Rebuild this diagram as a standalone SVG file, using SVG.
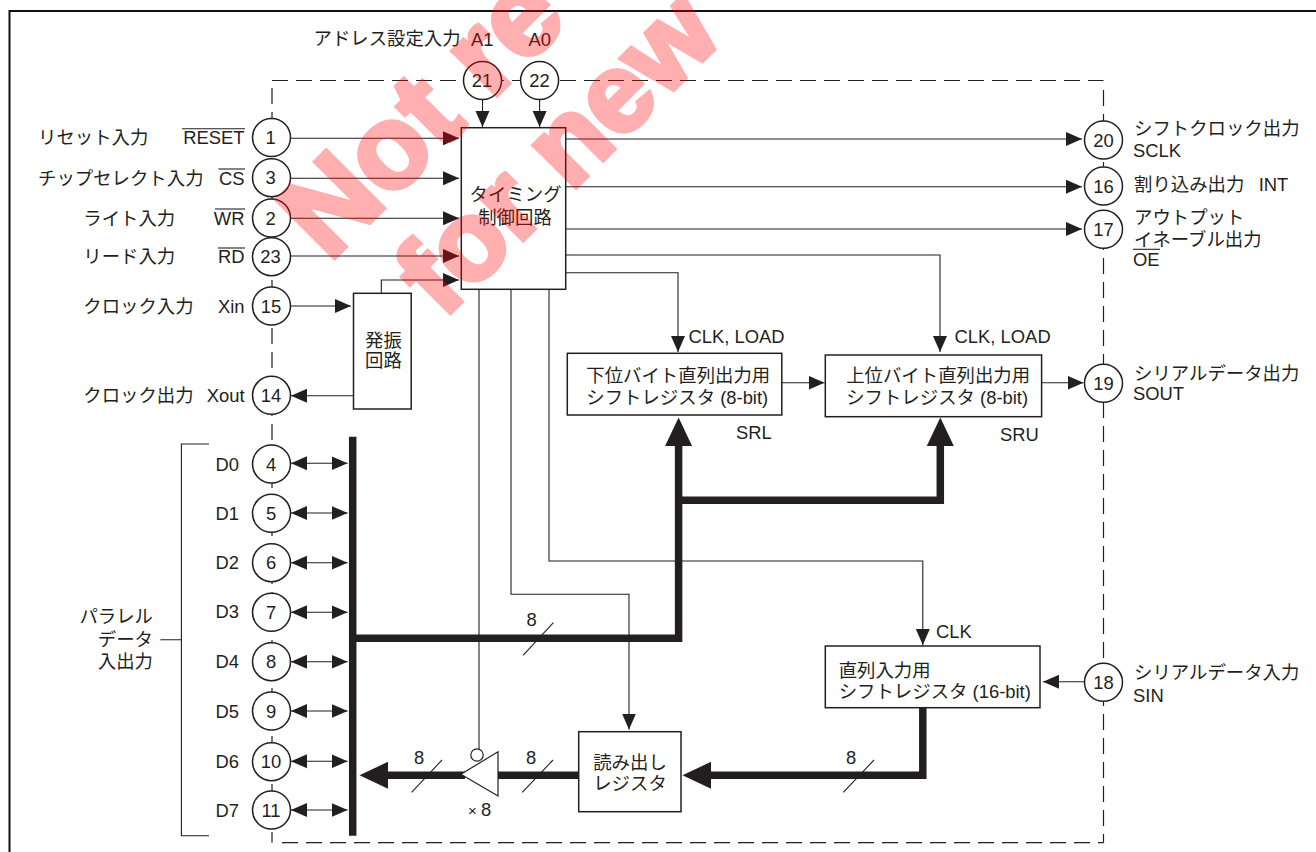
<svg xmlns="http://www.w3.org/2000/svg" width="1316" height="852" viewBox="0 0 1316 852">
<style>
text{font-family:"Liberation Sans","Noto Sans CJK JP",sans-serif;font-size:18.4px;fill:#231f20}
.jp{font-family:"Noto Sans CJK JP","Liberation Sans",sans-serif}
.c{text-anchor:middle}
.e{text-anchor:end}
.pin{fill:#fff;stroke:#231f20;stroke-width:1.5}
.box{fill:#fff;stroke:#231f20;stroke-width:1.5}
.ln{fill:none;stroke:#231f20;stroke-width:1.1}
.ar{marker-end:url(#a)}
.bi{marker-end:url(#a);marker-start:url(#a)}
.th{fill:none;stroke:#231f20;stroke-width:7.5;stroke-linejoin:miter}
.tha{marker-end:url(#b)}
.dash{fill:none;stroke:#231f20;stroke-width:1.2;stroke-dasharray:16 8}
.wm{font-family:"Liberation Sans",sans-serif;font-weight:bold;fill:#f00;stroke:#f00;stroke-width:5;paint-order:stroke}
</style>
<defs>
<marker id="a" markerUnits="userSpaceOnUse" markerWidth="18" markerHeight="16" refX="16" refY="8" orient="auto-start-reverse" viewBox="0 0 18 16"><path d="M0,1 L16,8 L0,15z" fill="#231f20"/></marker>
<marker id="b" markerUnits="userSpaceOnUse" markerWidth="30" markerHeight="30" refX="0" refY="15" orient="auto" viewBox="0 0 30 30"><path d="M0,1.5 L28.5,15 L0,28.5z" fill="#231f20"/></marker>
</defs>
<rect width="1316" height="852" fill="#fff"/>
<path d="M1316,11 H9.5 V852" fill="none" stroke="#111" stroke-width="2"/>
<g id="boundary">
<path class="dash" d="M272,80.5 H1103.5"/>
<path class="dash" d="M272,88 V842.7"/>
<path class="dash" d="M1103.5,90 V842.7"/>
<path class="dash" d="M282,842.7 H1103.5"/>
</g>
<g id="connectors">
<path class="ln ar" d="M290,138.3 H459"/>
<path class="ln ar" d="M290,178.3 H459"/>
<path class="ln ar" d="M290,218.3 H459"/>
<path class="ln ar" d="M290,256 H459"/>
<path class="ln ar" d="M381.3,293 V280 H459"/>
<path class="ln ar" d="M290,306 H351"/>
<path class="ln ar" d="M353.5,395.7 H291"/>
<path class="ln ar" d="M482.5,99.5 V127"/>
<path class="ln ar" d="M539.6,99.5 V127"/>
<path class="ln ar" d="M565.7,139 H1082"/>
<path class="ln ar" d="M565.7,186.7 H1082"/>
<path class="ln ar" d="M565.7,229 H1082"/>
<path class="ln ar" d="M565.7,255 H940 V352"/>
<path class="ln ar" d="M565.7,272.7 H678 V352"/>
<path class="ln" d="M479,289.3 V749"/>
<path class="ln ar" d="M511,289.3 V594.3 H629 V729.5"/>
<path class="ln ar" d="M549,289.3 V561 H922.8 V645"/>
<path class="ln ar" d="M781.8,382.7 H824.5"/>
<path class="ln ar" d="M1041.6,382.7 H1083.5"/>
<path class="ln ar" d="M1084.5,681.7 H1043"/>
<path class="ln bi" d="M291,463.3 H347.6"/>
<path class="ln bi" d="M291,513 H347.6"/>
<path class="ln bi" d="M291,562.7 H347.6"/>
<path class="ln bi" d="M291,612.3 H347.6"/>
<path class="ln bi" d="M291,661.7 H347.6"/>
<path class="ln bi" d="M291,711 H347.6"/>
<path class="ln bi" d="M291,761.3 H347.6"/>
<path class="ln bi" d="M291,810 H347.6"/>
<path class="th" d="M352.7,436.7 V835.7"/>
<path class="th tha" d="M356,638.3 H678.6 V446"/>
<path class="th tha" d="M678.6,500.3 H940.3 V446"/>
<path class="th tha" d="M922.8,707.7 V775.3 H711"/>
<path class="th" d="M578.7,775.3 H498"/>
<path class="th tha" d="M465,775.3 H388"/>
<path class="ln" d="M523,655.3 L553.4,622.7"/>
<path class="ln" d="M411.6,792.3 L442,760"/>
<path class="ln" d="M522.3,792.3 L553,760"/>
<path class="ln" d="M843.3,792.3 L874,760"/>
<path class="ln" d="M209,444 H181.4 V835.7 H209 M181.4,639.7 H160.4"/>
</g>
<g id="pin-1"><circle class="pin" cx="271.5" cy="137.5" r="19"/><text class="c" x="270.5" y="144">1</text><text class="jp" x="38" y="144">リセット入力</text><text class="e" x="244.5" y="144">RESET</text><path class="ln" d="M182,128.7 H245"/></g>
<g id="pin-3"><circle class="pin" cx="271.5" cy="177.7" r="19"/><text class="c" x="270.5" y="184">3</text><text class="jp" x="38" y="184.5">チップセレクト入力</text><text class="e" x="244.5" y="184.5">CS</text><path class="ln" d="M218.4,169 H245"/></g>
<g id="pin-2"><circle class="pin" cx="271.5" cy="218" r="19"/><text class="c" x="270.5" y="224.5">2</text><text class="jp" x="83.3" y="225">ライト入力</text><text class="e" x="244.5" y="225">WR</text><path class="ln" d="M215,209 H245"/></g>
<g id="pin-23"><circle class="pin" cx="271.5" cy="256.7" r="19"/><text class="c" x="270.5" y="263">23</text><text class="jp" x="83.3" y="263">リード入力</text><text class="e" x="244.5" y="263">RD</text><path class="ln" d="M218,248 H245"/></g>
<g id="pin-15"><circle class="pin" cx="271.5" cy="306" r="19"/><text class="c" x="271" y="312.5">15</text><text class="jp" x="83.3" y="313">クロック入力</text><text class="e" x="244.5" y="312.5">Xin</text></g>
<g id="pin-14"><circle class="pin" cx="271.5" cy="395.3" r="19"/><text class="c" x="271" y="402">14</text><text class="jp" x="83.3" y="402">クロック出力</text><text class="e" x="244.5" y="402">Xout</text></g>
<g id="pin-21"><circle class="pin" cx="482.5" cy="80.5" r="19"/><text class="c" x="482" y="87">21</text><text class="jp" x="313.5" y="45">アドレス設定入力</text><text x="471" y="46">A1</text></g>
<g id="pin-22"><circle class="pin" cx="539.6" cy="80.5" r="19"/><text class="c" x="539.6" y="87">22</text><text x="528.6" y="46">A0</text></g>
<g id="pin-20"><circle class="pin" cx="1103.5" cy="140" r="19"/><text class="c" x="1103.5" y="147">20</text><text class="jp" x="1134" y="135">シフトクロック出力</text><text x="1133" y="157">SCLK</text></g>
<g id="pin-16"><circle class="pin" cx="1103.5" cy="186" r="19"/><text class="c" x="1103.5" y="192.5">16</text><text class="jp" x="1134" y="191">割り込み出力</text><text x="1258.7" y="191">INT</text></g>
<g id="pin-17"><circle class="pin" cx="1103.5" cy="229.3" r="19"/><text class="c" x="1103.5" y="236">17</text><text class="jp" x="1134" y="224">アウトプット</text><text class="jp" x="1134" y="246">イネーブル出力</text><text x="1133" y="266">OE</text><path class="ln" d="M1133,249.3 H1160"/></g>
<g id="pin-19"><circle class="pin" cx="1103.5" cy="383.3" r="19"/><text class="c" x="1103.5" y="390">19</text><text class="jp" x="1134" y="380">シリアルデータ出力</text><text x="1133" y="400">SOUT</text></g>
<g id="pin-18"><circle class="pin" cx="1103.5" cy="682.3" r="19"/><text class="c" x="1103.5" y="689">18</text><text class="jp" x="1134" y="679">シリアルデータ入力</text><text x="1133" y="701.5">SIN</text></g>
<g id="pin-4"><circle class="pin" cx="271.5" cy="464" r="19"/><text class="c" x="271" y="470.5">4</text><text x="215.5" y="471">D0</text></g>
<g id="pin-5"><circle class="pin" cx="271.5" cy="513.3" r="19"/><text class="c" x="271" y="520">5</text><text x="215.5" y="520">D1</text></g>
<g id="pin-6"><circle class="pin" cx="271.5" cy="562.7" r="19"/><text class="c" x="271" y="569">6</text><text x="215.5" y="569">D2</text></g>
<g id="pin-7"><circle class="pin" cx="271.5" cy="612.3" r="19"/><text class="c" x="271" y="618.5">7</text><text x="215.5" y="618">D3</text></g>
<g id="pin-8"><circle class="pin" cx="271.5" cy="661.7" r="19"/><text class="c" x="271" y="668">8</text><text x="215.5" y="668">D4</text></g>
<g id="pin-9"><circle class="pin" cx="271.5" cy="711" r="19"/><text class="c" x="271" y="717.5">9</text><text x="215.5" y="718">D5</text></g>
<g id="pin-10"><circle class="pin" cx="271.5" cy="761.7" r="19"/><text class="c" x="271" y="768">10</text><text x="215.5" y="768">D6</text></g>
<g id="pin-11"><circle class="pin" cx="271.5" cy="810" r="19"/><text class="c" x="271" y="816.5">11</text><text x="215.5" y="816.5">D7</text></g>
<g id="timing"><rect class="box" x="461.3" y="127.7" width="104.4" height="161.6"/><text class="jp c" x="515.6" y="201">タイミング</text><text class="jp c" x="515" y="224">制御回路</text></g>
<g id="osc"><rect class="box" x="353.5" y="293.3" width="57.7" height="115.7"/><text class="jp c" x="383.4" y="346.5">発振</text><text class="jp c" x="383.4" y="366.5">回路</text></g>
<g id="srl"><rect class="box" x="567.3" y="353.3" width="214.5" height="61.7"/><text class="jp" x="586.3" y="382">下位バイト直列出力用</text><text class="jp" x="586.3" y="403.5">シフトレジスタ<tspan font-family="Liberation Sans"> (8-bit)</tspan></text><text x="736" y="439">SRL</text></g>
<g id="sru"><rect class="box" x="825.3" y="355" width="216.3" height="61.7"/><text class="jp" x="846.2" y="382">上位バイト直列出力用</text><text class="jp" x="846.2" y="403.5">シフトレジスタ<tspan font-family="Liberation Sans"> (8-bit)</tspan></text><text x="1000" y="441">SRU</text></g>
<g id="sin-reg"><rect class="box" x="825.3" y="646" width="214.7" height="61.7"/><text class="jp" x="838.7" y="677">直列入力用</text><text class="jp" x="838.7" y="698">シフトレジスタ<tspan font-family="Liberation Sans"> (16-bit)</tspan></text></g>
<g id="read-reg"><rect class="box" x="578.7" y="731.7" width="102.3" height="80"/><text class="jp c" x="630" y="768.5">読み出し</text><text class="jp c" x="630" y="789.5">レジスタ</text></g>
<g id="buffer"><path d="M498,751.7 V796 L460.9,774.3z" fill="#fff" stroke="#231f20" stroke-width="1.2"/><ellipse cx="477" cy="755" rx="6.2" ry="6.2" fill="#fff" stroke="#231f20" stroke-width="1.2"/><text x="468" y="816"><tspan font-size="15">× </tspan>8</text></g>
<g id="labels">
<text x="688.5" y="343">CLK, LOAD</text>
<text x="954.6" y="343">CLK, LOAD</text>
<text x="936" y="638">CLK</text>
<text class="c" x="531.6" y="626">8</text>
<text class="c" x="419" y="764">8</text>
<text class="c" x="531" y="764">8</text>
<text class="c" x="851" y="764">8</text>
<text class="jp e" x="153" y="623">パラレル</text>
<text class="jp e" x="153" y="646">データ</text>
<text class="jp e" x="153" y="668">入出力</text>
</g>
<g id="watermark" opacity=".31">
<text class="wm" style="font-size:118px" transform="translate(329,263) rotate(-45)">Not re</text>
<text class="wm" style="font-size:112px" transform="translate(443,320) rotate(-45)">for new</text>
</g>
</svg>
